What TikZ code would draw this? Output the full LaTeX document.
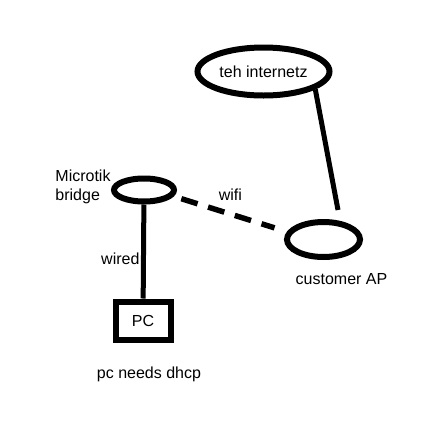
\documentclass[tikz,border=0pt]{standalone}
\usepackage{fontspec}
\setmainfont{Liberation Sans}
\usetikzlibrary{shapes.geometric}

\begin{document}
\begin{tikzpicture}[x=1pt,y=-1pt,node distance=40pt,auto,
  every node/.style={font=\fontsize{16}{18.5}\selectfont},
  blob/.style={draw,ellipse,line width=6pt,inner sep=0pt},
  box/.style={draw,rectangle,line width=6pt,inner sep=0pt},
  link/.style={line width=5pt},
  radio/.style={line width=5.5pt,dash pattern=on 17pt off 11pt}]

\useasboundingbox (0,0) rectangle (433,440);

\node[blob,minimum width=132pt,minimum height=48pt](inet) at (263.5,71.5){teh internetz};
\node[blob,minimum width=60pt,minimum height=23pt](mt) at (144,190){};
\node[blob,minimum width=73pt,minimum height=35pt](ap) at (323.5,239.5){};
\node[box,minimum width=55pt,minimum height=38pt](pc) at (143,320.5){PC};
\coordinate (aptop) at (338,210);

\node[align=left](mtlabel)[left of = mt,node distance=61pt,yshift=3pt]{Microtik\\bridge};
\node[](aplabel)[below of = ap,xshift=18pt]{customer AP};
\node[](pclabel)[below of = pc,node distance=53.5pt,xshift=6pt]{pc needs dhcp};

\path (inet.-19) edge[link] (aptop);
\path (mt) edge[link] node[left,inner sep=1.5pt,pos=0.58] {wired}(pc);
\path (mt.-12) edge[radio,shorten <=8pt,shorten >=13pt] node[above=7pt] {wifi}(ap.168);
\end{tikzpicture}
\end{document}
